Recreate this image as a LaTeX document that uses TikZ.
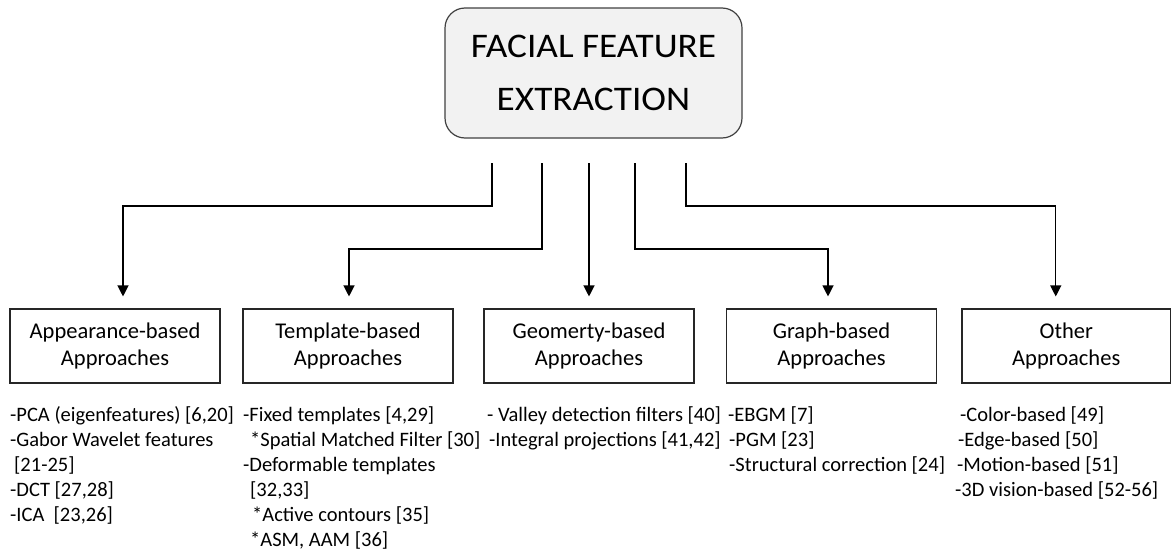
\documentclass[tikz,border=0pt]{standalone}
\usepackage{fontspec}
\setmainfont{Carlito}
\newfontfamily\widefont[FakeStretch=1.08]{Carlito}
\usetikzlibrary{arrows.meta}
\begin{document}
\begin{tikzpicture}[x=1pt,y=-1pt,
  topbox/.style={draw=black!75, fill=black!5, rounded corners=20pt, line width=1.2pt, minimum width=297pt, minimum height=130pt, align=center, font=\widefont\fontsize{34.5}{53}\selectfont, inner sep=0pt},
  catbox/.style={draw=black!85, line width=1.1pt, minimum width=210pt, minimum height=74pt, align=center, font=\fontsize{22.5}{27}\selectfont, inner sep=0pt},
  item/.style={anchor=base west, inner sep=0pt, font=\fontsize{20.5}{25}\selectfont},
  conn/.style={line width=1.2pt, -{Triangle[width=11pt,length=11pt]}, shorten >=12pt}]
\useasboundingbox (0,0) rectangle (1171,549);
\node[topbox] (top) at (593.5,73) {FACIAL FEATURE\\EXTRACTION};
\node[catbox] (b1) at (115,346) {Appearance-based\\Approaches};
\node[catbox] (b2) at (348,346) {Template-based\\Approaches};
\node[catbox] (b3) at (589,346) {Geomerty-based\\Approaches};
\node[catbox] (b4) at (831.5,346) {Graph-based\\Approaches};
\node[catbox, minimum width=208.5pt] (b5) at (1066.25,346) {Other\\Approaches};
% connector starts
\coordinate (s1) at (492,163);
\coordinate (s2) at (542,163);
\coordinate (s3) at (589,163);
\coordinate (s4) at (635,163);
\coordinate (s5) at (686,163);
\draw[conn] (s1) -- ++(0,43) -| ([xshift=8pt]b1.north);
\draw[conn] (s2) -- ++(0,86) -| ([xshift=1pt]b2.north);
\draw[conn] (s3) -- (b3.north);
\draw[conn] (s4) -- ++(0,86) -| ([xshift=-3.5pt]b4.north);
\draw[conn] (s5) -- ++(0,43) -| ([xshift=-10.5pt]b5.north);
% list 1
\node[item] (l1a) at (10,421) {-PCA (eigenfeatures)\ [6,20]};
\node[item] (l1b) at (10,446) {-Gabor Wavelet features};
\node[item] (l1c) at (14,471) {[21-25]};
\node[item] (l1d) at (10,496) {-DCT [27,28]};
\node[item] (l1e) at (10,521) {-ICA\ \ [23,26]};
% list 2
\node[item] (l2a) at (243,421) {-Fixed templates [4,29]};
\node[item] (l2b) at (250,446) {*Spatial Matched Filter [30]};
\node[item] (l2c) at (243,471) {-Deformable templates};
\node[item] (l2d) at (250,496) {[32,33]};
\node[item] (l2e) at (252,521) {*Active contours [35]};
\node[item] (l2f) at (250,546) {*ASM, AAM [36]};
% list 3
\node[item] (l3a) at (487,421) {- Valley detection filters [40]};
\node[item] (l3b) at (489,446) {-Integral projections [41,42]};
% list 4
\node[item] (l4a) at (728,421) {-EBGM [7]};
\node[item] (l4b) at (729,446) {-PGM [23]};
\node[item] (l4c) at (729,471) {-Structural correction [24]};
% list 5
\node[item] (l5a) at (960,421) {-Color-based [49]};
\node[item] (l5b) at (958,446) {-Edge-based [50]};
\node[item] (l5c) at (957,471) {-Motion-based [51]};
\node[item] (l5d) at (955,496) {-3D vision-based [52-56]};
\end{tikzpicture}
\end{document}
